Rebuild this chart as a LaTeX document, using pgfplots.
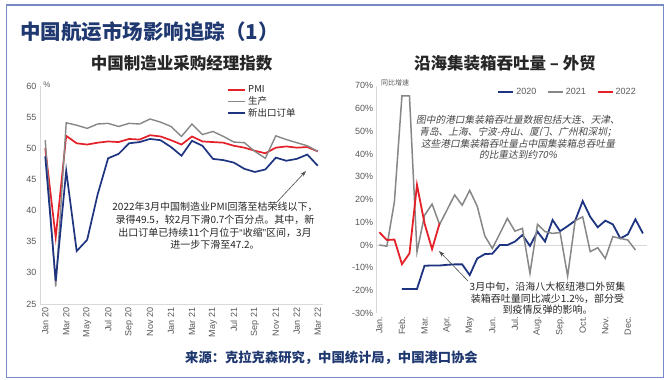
\documentclass[border=0pt]{standalone}
\usepackage{fontspec}
\setmainfont{Liberation Sans}
\setsansfont{Liberation Sans}
\newfontfamily\cjk{Noto Sans CJK SC}
\newfontfamily\cjkit[FakeSlant=0.2]{Noto Sans CJK SC}
\newfontfamily\latinq{Liberation Sans}
\usepackage{pgfplots}
\pgfplotsset{compat=1.18}
\usetikzlibrary{arrows.meta}
\definecolor{titlenavy}{RGB}{31,56,112}
\definecolor{redL}{RGB}{228,32,40}
\definecolor{grayL}{RGB}{135,135,135}
\definecolor{navyL}{RGB}{30,52,128}
\definecolor{framecol}{RGB}{118,138,198}
\definecolor{ticktext}{RGB}{89,89,89}
\definecolor{axisgray}{RGB}{217,217,217}
\definecolor{darktext}{RGB}{38,38,38}
\begin{document}
\begin{tikzpicture}
\useasboundingbox (0pt,0pt) rectangle (670pt,-380pt);
\fill[white] (0pt,0pt) rectangle (670pt,-380pt);
\draw[framecol, line width=1.5pt] (6.5pt,-5pt) rectangle (663.5pt,-377.5pt);
\node[anchor=west, font=\cjk\bfseries\fontsize{20.5}{24}\selectfont, text=titlenavy, inner sep=0pt] at (20pt,-32pt) {中国航运市场影响追踪（1）};
\node[font=\cjk\bfseries\fontsize{16.5}{19}\selectfont, text=darktext, inner sep=0pt] at (181.5pt,-63pt) {中国制造业采购经理指数};
\node[font=\cjk\bfseries\fontsize{16.5}{19}\selectfont, text=darktext, inner sep=0pt] at (505pt,-63pt) {沿海集装箱吞吐量 – 外贸};
\node[font=\cjk\bfseries\fontsize{13.3}{15}\selectfont, text=titlenavy, inner sep=0pt] at (331.5pt,-358pt) {来源：克拉克森研究，中国统计局，中国港口协会};

% ---------------- left chart ----------------
\begin{axis}[
  at={(40pt,-304pt)}, anchor=south west,
  scale only axis, width=283pt, height=218pt,
  xmin=-0.5, xmax=26.5, ymin=25, ymax=60,
  axis x line*=bottom, axis y line*=left,
  axis line style={draw=axisgray, line width=1pt, -},
  tick style={draw=none},
  xtick={0,2,...,26},
  xticklabels={Jan 20,Mar 20,May 20,Jul 20,Sep 20,Nov 20,Jan 21,Mar 21,May 21,Jul 21,Sep 21,Nov 21,Jan 22,Mar 22},
  x tick label style={rotate=90, anchor=east, font=\fontsize{9}{10}\selectfont, text=ticktext},
  ytick={25,30,...,60},
  yticklabels={25,30,35,40,45,50,55,60},
  y tick label style={font=\fontsize{9}{10}\selectfont, text=ticktext},
  legend style={at={(0.662,1.012)}, anchor=north west, draw=none, fill=none,
    font=\cjk\fontsize{9.5}{10}\selectfont, text=darktext, row sep=-1.5pt, inner sep=0pt,
    cells={anchor=west}},
  legend image code/.code={\draw[#1] (0pt,0pt) -- (17pt,0pt);},
]
\addplot[redL, line width=1.7pt] coordinates {
(0,50.0) (1,35.7) (2,52.0) (3,50.8) (4,50.6) (5,50.9) (6,51.1) (7,51.0) (8,51.5) (9,51.4)
(10,52.1) (11,51.9) (12,51.3) (13,50.6) (14,51.9) (15,51.1) (16,51.0) (17,50.9) (18,50.4)
(19,50.1) (20,49.6) (21,49.2) (22,50.1) (23,50.3) (24,50.1) (25,50.2) (26,49.5)};
\addlegendentry{PMI}
\addplot[grayL, line width=1.4pt] coordinates {
(0,51.3) (1,27.8) (2,54.1) (3,53.7) (4,53.2) (5,53.9) (6,54.0) (7,53.5) (8,54.0) (9,53.9)
(10,54.7) (11,54.2) (12,53.5) (13,51.9) (14,53.9) (15,52.2) (16,52.7) (17,51.9) (18,51.0)
(19,50.9) (20,49.5) (21,48.4) (22,52.0) (23,51.4) (24,50.9) (25,50.4) (26,49.5)};
\addlegendentry{生产}
\addplot[navyL, line width=1.7pt] coordinates {
(0,48.7) (1,28.7) (2,46.4) (3,33.5) (4,35.3) (5,42.6) (6,48.4) (7,49.1) (8,50.8) (9,51.0)
(10,51.5) (11,51.3) (12,50.2) (13,48.8) (14,51.2) (15,50.4) (16,48.3) (17,48.1) (18,47.7)
(19,46.7) (20,46.2) (21,46.6) (22,48.5) (23,48.0) (24,48.3) (25,49.0) (26,47.2)};
\addlegendentry{新出口订单}
\end{axis}
\node[font=\fontsize{8}{9}\selectfont, text=ticktext, inner sep=0pt] at (47pt,-85pt) {\%};
\node[align=center, font=\cjk\fontsize{10}{12.7}\selectfont, text=darktext, inner sep=0pt] at (215pt,-226pt)
 {2022年3月中国制造业PMI回落至枯荣线以下，\\录得49.5，较2月下滑0.7个百分点。其中，新\\出口订单已持续11个月位于{\latinq“}收缩{\latinq”}区间，3月\\进一步下滑至47.2。};
\draw[-{Stealth[length=6pt,width=4pt]}, black!70, line width=0.6pt] (277pt,-202pt) -- (306pt,-171pt);

% ---------------- right chart ----------------
\begin{axis}[
  at={(376.7pt,-313.3pt)}, anchor=south west,
  scale only axis, width=270pt, height=227.6pt,
  xmin=-0.35, xmax=35.5, ymin=-30, ymax=70,
  axis x line*=bottom, axis y line*=left,
  axis line style={draw=axisgray, line width=1pt, -},
  x axis line style={draw=none},
  tick style={draw=none},
  xtick={0,3,...,33},
  xticklabels={Jan.,Feb.,Mar.,Apr.,May,Jun.,Jul.,Aug.,Sep.,Oct.,Nov.,Dec.},
  x tick label style={rotate=90, anchor=east, font=\fontsize{9}{10}\selectfont, text=ticktext},
  ytick={-30,-20,...,70},
  yticklabels={-30\%,-20\%,-10\%,0\%,10\%,20\%,30\%,40\%,50\%,60\%,70\%},
  y tick label style={font=\fontsize{9}{10}\selectfont, text=ticktext},
  extra y ticks={0}, extra y tick labels={},
  extra y tick style={grid=major, major grid style={draw=axisgray, line width=1pt}},
  legend columns=3,
  legend style={at={(0.447,0.972)}, anchor=west, draw=none, fill=none,
    font=\fontsize{9}{10}\selectfont, text=ticktext, inner sep=0pt,
    /tikz/every even column/.append style={column sep=9pt}},
  legend image code/.code={\draw[#1] (0pt,0pt) -- (15pt,0pt);},
]
\addplot[navyL, line width=1.8pt] coordinates {
(3,-19.3) (4,-19.3) (5,-19.3) (6,-9.1) (7,-9.0) (8,-9.0) (9,-8.7) (10,-8.5) (11,-8.5)
(12,-13.2) (13,-5.9) (14,-4.0) (15,-3.8) (16,0) (17,0) (18,1.5) (19,4.4) (20,-0.4)
(21,5.9) (22,1.5) (23,11.0) (24,6.1) (25,8.3) (26,10.7) (27,19.3) (28,12.4) (29,7.8)
(30,10.7) (31,9.1) (32,2.9) (33,4.7) (34,11.3) (35,5.1)};
\addlegendentry{2020}
\addplot[grayL, line width=1.5pt] coordinates {
(0,0) (1,-0.5) (2,19) (3,65.5) (4,65.5) (5,-3) (6,13) (7,18) (8,9) (9,15.5) (10,22)
(11,17.5) (12,24) (13,17) (14,4) (15,-1.5) (16,5) (17,11.7) (18,6.1) (19,7.3) (20,-12.4)
(21,9.1) (22,5.9) (23,5.1) (24,5.5) (25,-13.6) (26,10.7) (27,12.4) (28,-2.9) (29,-1.2)
(30,-5.9) (31,3.7) (32,2.9) (33,2.2) (34,-2.2)};
\addlegendentry{2021}
\addplot[redL, line width=1.8pt] coordinates {
(0,5.6) (1,2.2) (2,2.4) (3,-8.4) (4,-3.7) (5,26.4) (6,9.5) (7,-1.8) (8,9.5)};
\addlegendentry{2022}
\end{axis}
\node[font=\cjk\fontsize{7}{8}\selectfont, text=ticktext, inner sep=0pt] at (395pt,-83pt) {同比增速};
\node[align=center, font=\cjkit\fontsize{9.7}{11.6}\selectfont, text=darktext!85, inner sep=0pt] at (518pt,-137.5pt)
 {图中的港口集装箱吞吐量数据包括大连、天津、\\青岛、上海、宁波-舟山、厦门、广州和深圳；\\这些港口集装箱吞吐量占中国集装箱总吞吐量\\的比重达到约70\%};
\node[align=center, font=\cjk\fontsize{10}{11.7}\selectfont, text=darktext, inner sep=0pt] at (547.5pt,-298.3pt)
 {3月中旬，沿海八大枢纽港口外贸集\\装箱吞吐量同比减少1.2\%，部分受\\到疫情反弹的影响。};
\draw[-{Stealth[length=6pt,width=4pt]}, black!70, line width=0.6pt] (468pt,-281pt) -- (439pt,-251pt);
\end{tikzpicture}
\end{document}
